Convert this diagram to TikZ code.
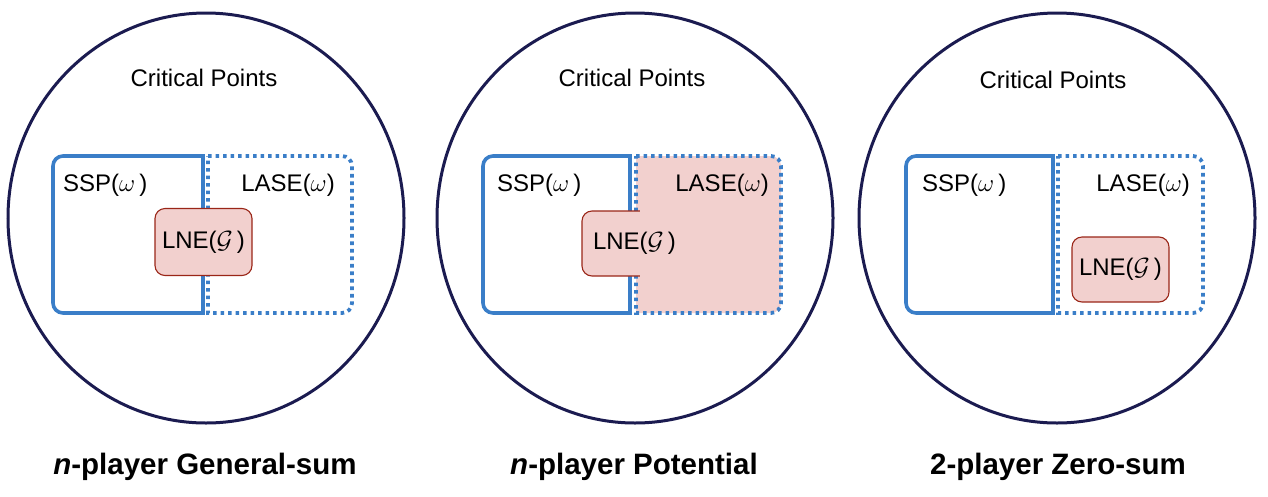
\documentclass[tikz,border=0pt]{standalone}
\usepackage{fontspec}
\setmainfont{Liberation Sans}
\definecolor{navy}{HTML}{1B1B50}
\definecolor{setblue}{HTML}{3A7EC8}
\definecolor{lnepink}{HTML}{F2D0CE}
\definecolor{lnered}{HTML}{9A2618}
\tikzset{
  world/.style={draw=navy, line width=3pt},
  sspbox/.style={draw=setblue, line width=3.6pt, line join=miter},
  lasebox/.style={draw=setblue, line width=3.8pt, dash pattern=on 3.6pt off 3.9pt},
  lnebox/.style={draw=lnered, fill=lnepink, line width=1.1pt, rounded corners=10pt, inner sep=0pt},
  lbl/.style={font=\fontsize{24}{28}\selectfont, inner sep=0pt},
  ttl/.style={font=\fontsize{29.5}{34}\selectfont\bfseries, inner sep=0pt}
}
\newcommand{\om}{{\fontsize{27}{28}\selectfont$\omega$}}
\newcommand{\gm}{{\fontsize{27}{28}\selectfont$\mathcal{G}$}}
\newcommand{\leftroundbox}[5][]{% x1 y1 x2 y2 : rounded on left side
  \draw[#1] (#4,#3) -- ({#2+10},#3) .. controls ({#2+4.5},#3) and (#2,{#3+4.5}) .. (#2,{#3+10})
    -- (#2,{#5-10}) .. controls (#2,{#5-4.5}) and ({#2+4.5},#5) .. ({#2+10},#5) -- (#4,#5) -- cycle;}
\newcommand{\rightroundbox}[5][]{% x1 y1 x2 y2 : rounded on right side
  \draw[#1] (#2,#3) -- ({#4-10},#3) .. controls ({#4-4.5},#3) and (#4,{#3+4.5}) .. (#4,{#3+10})
    -- (#4,{#5-10}) .. controls (#4,{#5-4.5}) and ({#4-4.5},#5) .. ({#4-10},#5) -- (#2,#5) -- cycle;}
\begin{document}
\begin{tikzpicture}[x=1pt,y=-1pt]
\useasboundingbox (0,0) rectangle (1268,496);

% ---------- Panel 1 ----------
\draw[world] (206,218) ellipse [x radius=198, y radius=205];
\node[lbl] (cp1) at (204,78) {Critical Points};
\leftroundbox[sspbox]{53}{156}{203}{313}
\rightroundbox[lasebox]{208}{156}{352}{313}
\node[lbl, anchor=west] (ssp1) at (63,185) {SSP(\om\,)};
\node[lbl, anchor=east] (lase1) at (335,185) {LASE(\om)};
\node[lnebox, minimum width=97pt, minimum height=67pt] (lne1) at (203.5,242) {};
\node[lbl] (lnet1) at (lne1.center) {LNE(\gm\,)};
\node[ttl] (t1) at (205,467) {\textit{n}-player General-sum};

% ---------- Panel 2 ----------
\draw[world] (635,218) ellipse [x radius=198, y radius=205];
\node[lbl] (cp2) at (632,78) {Critical Points};
\leftroundbox[sspbox]{483}{156}{630}{313}
\rightroundbox[lasebox, fill=lnepink]{636}{156}{781}{313}
\node[lbl, anchor=west] (ssp2) at (497,185) {SSP(\om\,)};
\node[lbl, anchor=east] (lase2) at (769,185) {LASE(\om)};
\node[lnebox, minimum width=105pt, minimum height=65pt] (lne2) at (634.5,243.5) {};
\fill[lnepink] (640,209.5) rectangle (692,277.5);
\node[lbl] (lnet2) at (634.5,243.5) {LNE(\gm\,)};
\node[ttl] (t2) at (634,467) {\textit{n}-player Potential};

% ---------- Panel 3 ----------
\draw[world] (1057,218) ellipse [x radius=198, y radius=205];
\node[lbl] (cp3) at (1053,80) {Critical Points};
\leftroundbox[sspbox]{906}{156}{1053}{313}
\rightroundbox[lasebox]{1058}{156}{1203}{313}
\node[lbl, anchor=west] (ssp3) at (922,185) {SSP(\om\,)};
\node[lbl, anchor=east] (lase3) at (1190,185) {LASE(\om)};
\node[lnebox, minimum width=97pt, minimum height=65pt] (lne3) at (1120.5,269.5) {};
\node[lbl] (lnet3) at (lne3.center) {LNE(\gm\,)};
\node[ttl] (t3) at (1058,467) {2-player Zero-sum};
\end{tikzpicture}
\end{document}
